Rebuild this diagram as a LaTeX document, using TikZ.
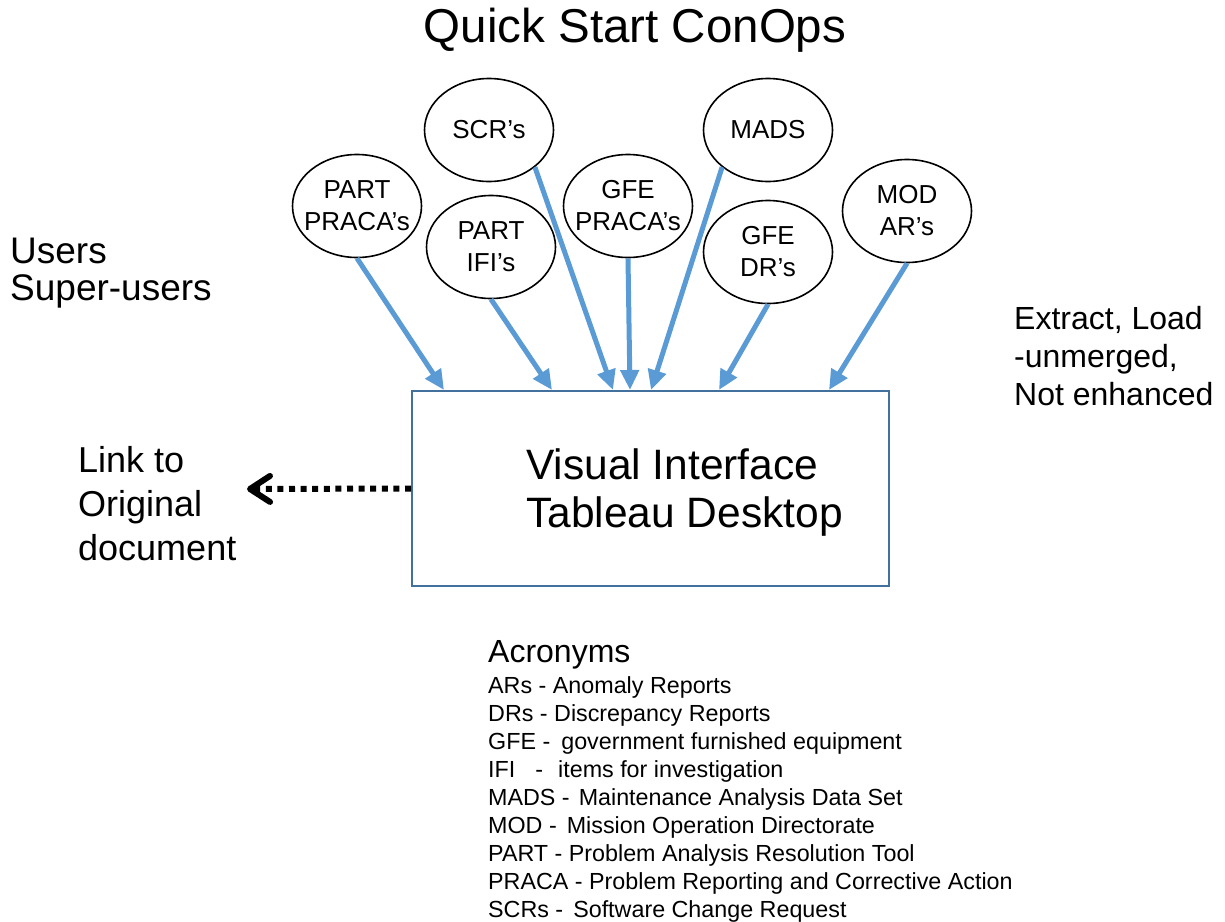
\documentclass[tikz,border=0pt]{standalone}
\usepackage{fontspec}
\setmainfont{Liberation Sans}
\usetikzlibrary{shapes.geometric,arrows.meta,calc}
\definecolor{arrowblue}{RGB}{91,155,213}
\definecolor{boxblue}{RGB}{65,113,156}
\begin{document}
\begin{tikzpicture}[x=1pt,y=-1pt,
  bubble/.style={ellipse,draw=black,line width=1.6pt,minimum width=129pt,minimum height=103pt,inner xsep=-9pt,inner ysep=0pt,align=center,font=\fontsize{26}{32}\selectfont},
  feed/.style={draw=arrowblue,line width=5pt,-{Triangle[length=20pt,width=18pt]}},
  txt/.style={inner sep=0pt,anchor=base west,align=left},
  linkarrow/.style={draw=black,line width=6pt,dash pattern=on 6pt off 5.6pt,-{Straight Barb[length=20pt,width=26pt,round]}}
]
\useasboundingbox (0,0) rectangle (1225,921);

\node[inner sep=0pt,anchor=base,font=\fontsize{47.5}{56}\selectfont] (title) at (635,42) {Quick Start ConOps};

\node[txt,font=\fontsize{37}{37}\selectfont] (users) at (10,300) {Users\\Super-users};
\node[txt,font=\fontsize{32}{38}\selectfont] (extract) at (1014,405) {Extract, Load\\-unmerged,\\Not enhanced};
\node[txt,font=\fontsize{36}{44}\selectfont] (link) at (78,560) {Link to\\Original\\document};

\node[bubble] (pp) at (357,206) {PART\\PRACA’s};
\node[bubble] (scr) at (489,130) {SCR’s};
\node[bubble] (pi) at (491,247) {PART\\IFI’s};
\node[bubble] (gp) at (628,206) {GFE\\PRACA’s};
\node[bubble] (mads) at (768,130) {MADS};
\node[bubble] (gd) at (768,252) {GFE\\DR’s};
\node[bubble] (mod) at (907,211) {MOD\\AR’s};

\node[draw=boxblue,line width=2pt,minimum width=477pt,minimum height=195pt,inner sep=0pt] (box) at (650.5,488.5) {};
\node[txt,font=\fontsize{42.5}{48}\selectfont] (vi) at (526,527) {Visual Interface\\Tableau Desktop};

\draw[feed] (pp.south) -- ($(box.north west)+(33,0)$);
\draw[feed] (pi.south) -- ($(box.north west)+(141,0)$);
\draw[feed] (scr.-39) -- ($(box.north west)+(202,0)$);
\draw[feed] (gp.south) -- ($(box.north west)+(219,0)$);
\draw[feed] (mads.-141) -- ($(box.north west)+(240,0)$);
\draw[feed] (gd.south) -- ($(box.north west)+(308,0)$);
\draw[feed] (mod.south) -- ($(box.north west)+(418,0)$);

\coordinate (linktip) at (247,489);
\draw[linkarrow] (box.west) -- (linktip);

\node[txt,font=\fontsize{32}{36}\selectfont] (acr) at (488,662) {Acronyms};
\node[txt,font=\fontsize{23.3}{28}\selectfont] (list) at (488,917) {ARs - Anomaly Reports\\
DRs - Discrepancy Reports\\
GFE -\hspace{11pt}government furnished equipment\\
IFI\hspace{20pt}-\hspace{15pt}items for investigation\\
MADS -\hspace{9pt}Maintenance Analysis Data Set\\
MOD -\hspace{10pt}Mission Operation Directorate\\
PART - Problem Analysis Resolution Tool\\
PRACA - Problem Reporting and Corrective Action\\
SCRs -\hspace{10pt}Software Change Request};
\end{tikzpicture}
\end{document}
